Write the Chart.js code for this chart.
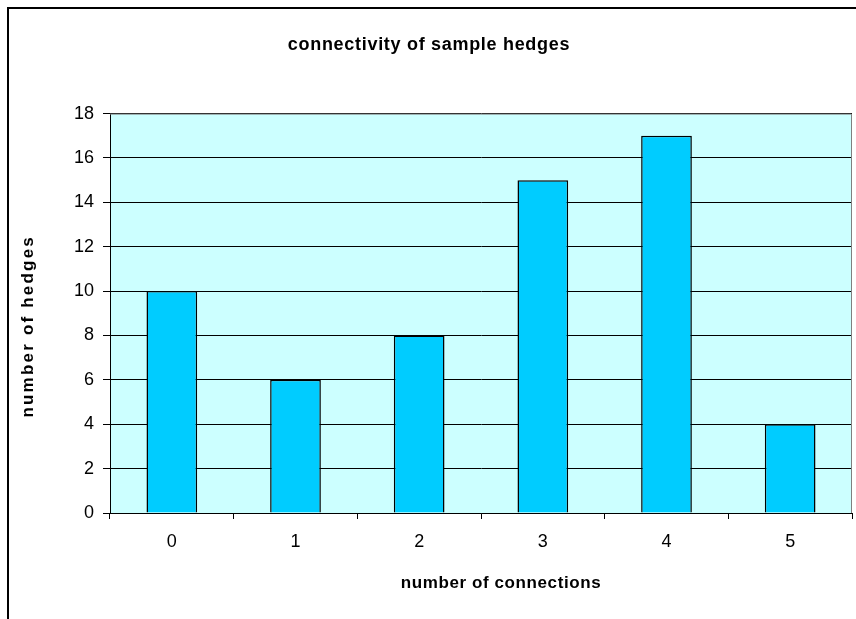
<!DOCTYPE html>
<html>
<head>
<meta charset="utf-8">
<script src="https://cdn.jsdelivr.net/npm/chart.js@4/dist/chart.umd.min.js"></script>
<style>
  html, body { margin: 0; padding: 0; background: #ffffff; }
  #wrap { position: relative; width: 856px; height: 619px; }
</style>
</head>
<body>
<div id="wrap"><canvas id="c" width="856" height="619"></canvas></div>
<script>
// Hedge connectivity counts
const connections = ['0', '1', '2', '3', '4', '5'];
const hedgeCounts = [10, 6, 8, 15, 17, 4];
const yTicks = [0, 2, 4, 6, 8, 10, 12, 14, 16, 18];

const chartTitle = 'connectivity of sample hedges';
const xTitle = 'number of connections';
const yTitle = 'number of hedges';

const FONT = '"Liberation Sans", Arial, sans-serif';

// Title text styling: wider letter spacing and a small nudge along the text line
const titleStyle = {};
titleStyle[chartTitle] = { spacing: '0.7px', shift: 3 };
titleStyle[xTitle] = { spacing: '0.6px', shift: 20 };
titleStyle[yTitle] = { spacing: '2.2px', shift: -13 };

const proto = CanvasRenderingContext2D.prototype;
const baseFillText = proto.fillText;
const baseMeasureText = proto.measureText;
proto.fillText = function (text, x, y, maxWidth) {
  const st = titleStyle[text];
  if (st === undefined) return maxWidth === undefined
    ? baseFillText.call(this, text, x, y)
    : baseFillText.call(this, text, x, y, maxWidth);
  const prev = this.letterSpacing;
  this.letterSpacing = st.spacing;
  baseFillText.call(this, text, x + st.shift, y);
  this.letterSpacing = prev;
};
proto.measureText = function (text) {
  const st = titleStyle[text];
  if (st === undefined) return baseMeasureText.call(this, text);
  const prev = this.letterSpacing;
  this.letterSpacing = st.spacing;
  const m = baseMeasureText.call(this, text);
  this.letterSpacing = prev;
  return m;
};

// Frame around the whole chart, and the cyan plot background
const framePlugin = {
  id: 'frame',
  beforeDraw(chart) {
    const ctx = chart.ctx;
    const a = chart.chartArea;
    ctx.save();
    ctx.fillStyle = '#ffffff';
    ctx.fillRect(0, 0, chart.width, chart.height);
    ctx.strokeStyle = '#000000';
    ctx.lineWidth = 2;
    ctx.strokeRect(8, 8, 900, 700);
    ctx.fillStyle = '#CCFFFF';
    ctx.fillRect(a.left, a.top, a.right - a.left, a.bottom - a.top);
    ctx.restore();
  },
  afterDatasetsDraw(chart) {
    const ctx = chart.ctx;
    const a = chart.chartArea;
    ctx.save();
    ctx.strokeStyle = '#808080';
    ctx.lineWidth = 1;
    ctx.beginPath();
    ctx.moveTo(a.left, a.top + 0.5);
    ctx.lineTo(a.right - 0.5, a.top + 0.5);
    ctx.lineTo(a.right - 0.5, a.bottom);
    ctx.stroke();
    ctx.restore();
  }
};

new Chart(document.getElementById('c'), {
  type: 'bar',
  data: {
    labels: connections,
    datasets: [{
      data: hedgeCounts,
      backgroundColor: '#00CCFF',
      borderColor: '#000000',
      borderWidth: 1.5,
      barPercentage: 0.41,
      categoryPercentage: 1.0
    }]
  },
  options: {
    responsive: false,
    animation: false,
    devicePixelRatio: 1,
    layout: { padding: { left: 0, right: 4, top: 0, bottom: 0 } },
    plugins: {
      legend: { display: false },
      tooltip: { enabled: false },
      title: {
        display: true,
        text: chartTitle,
        color: '#000000',
        font: { family: FONT, size: 18, weight: 'bold' },
        padding: { top: 34, bottom: 58 }
      }
    },
    scales: {
      x: {
        type: 'category',
        offset: true,
        grid: {
          display: true,
          offset: true,
          drawOnChartArea: false,
          drawTicks: true,
          tickLength: 6,
          color: '#000000',
          lineWidth: 1
        },
        border: { display: true, color: '#000000', width: 1 },
        ticks: {
          color: '#000000',
          font: { family: FONT, size: 18 },
          padding: 12,
          maxRotation: 0
        },
        title: {
          display: true,
          text: xTitle,
          color: '#000000',
          font: { family: FONT, size: 17, weight: 'bold' },
          padding: { top: 0, bottom: 25 }
        },
        afterFit(scale) { scale.height = 106; }
      },
      y: {
        min: 0,
        max: 18,
        afterBuildTicks(scale) { scale.ticks = yTicks.map(v => ({ value: v })); },
        grid: {
          display: true,
          drawTicks: true,
          tickLength: 7,
          color: '#000000',
          lineWidth: 1
        },
        border: { display: true, color: '#000000', width: 1 },
        ticks: {
          color: '#000000',
          font: { family: FONT, size: 18 },
          padding: 9
        },
        title: {
          display: true,
          text: yTitle,
          color: '#000000',
          font: { family: FONT, size: 17, weight: 'bold' },
          padding: { top: 18, bottom: 0 }
        },
        afterFit(scale) { scale.width = 110; }
      }
    }
  },
  plugins: [framePlugin]
});
</script>
</body>
</html>
